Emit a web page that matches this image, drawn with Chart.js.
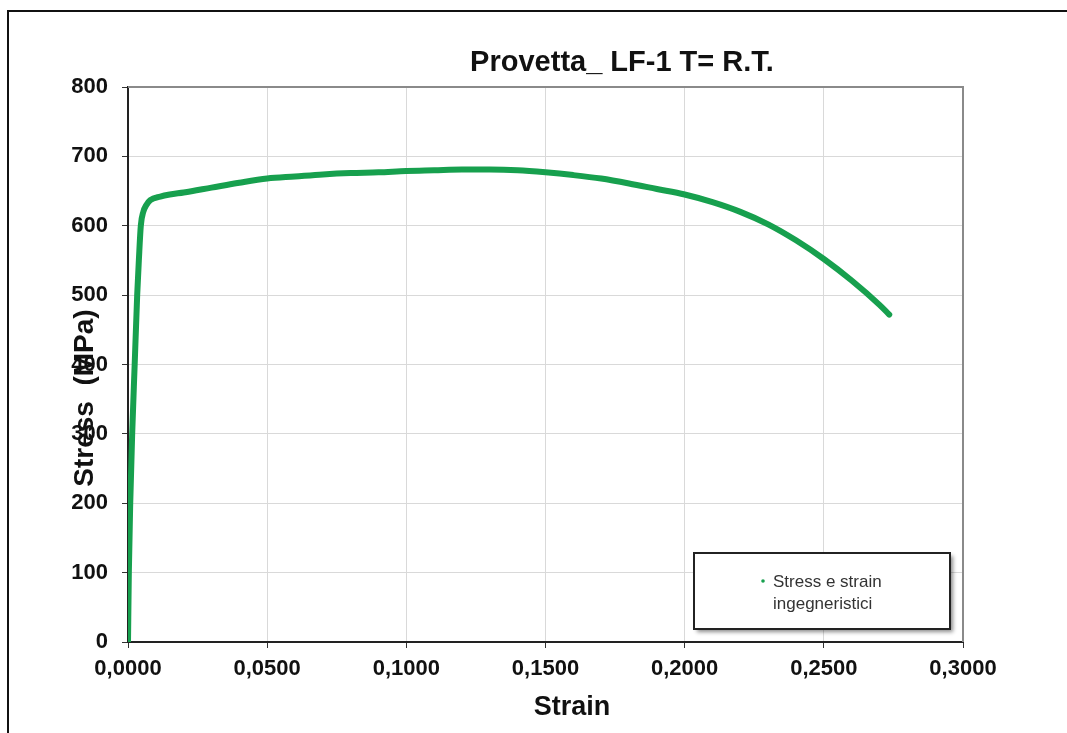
<!DOCTYPE html>
<html>
<head>
<meta charset="utf-8">
<script src="https://cdn.jsdelivr.net/npm/chart.js@4/dist/chart.umd.min.js"></script>
<style>
  body { margin: 0; background: #fff; }
  #wrap { position: relative; width: 1067px; height: 733px; overflow: hidden; }
  #frame { position: absolute; left: 7px; top: 10px; width: 2000px; height: 2000px;
           border-left: 2px solid #111; border-top: 2px solid #111; }
  #chart { position: absolute; left: 0; top: 0; }
</style>
</head>
<body>
<div id="wrap">
  <div id="frame"></div>
  <canvas id="chart" width="1067" height="733"></canvas>
</div>
<script>
// dati
const chartTitle = 'Provetta_ LF-1 T= R.T.';
const xTitle = 'Strain';
const yTitle = 'Stress  (MPa)';
const seriesName = ['Stress e strain', 'ingegneristici'];

const strain = [0, 0.0003, 0.0008, 0.0015, 0.0024, 0.0033, 0.0039, 0.0046, 0.0055, 0.0066,
  0.008, 0.0116, 0.015, 0.02, 0.03, 0.04, 0.05, 0.06, 0.07, 0.08,
  0.09, 0.1, 0.11, 0.12, 0.13, 0.14, 0.15, 0.16, 0.17, 0.18,
  0.19, 0.2, 0.21, 0.22, 0.23, 0.24, 0.25, 0.26, 0.27, 0.2735];
const stress = [0, 100, 200, 300, 400, 500, 550, 600, 620, 630,
  637, 642, 645, 648, 655, 662, 668, 671, 674, 676,
  677, 679, 680, 681, 681, 680, 677, 673, 668, 661,
  653, 645, 634, 620, 602, 579, 552, 521, 486, 472];

const xMin = 0, xMax = 0.3, xStep = 0.05;
const yMin = 0, yMax = 800, yStep = 100;

const green = '#17a04e';
const fontFam = "'Liberation Sans', Arial, sans-serif";

// testi e legenda disegnati a mano (posizioni come nell'originale)
const extras = {
  id: 'extras',
  beforeDatasetsDraw(chart) {
    const {ctx, chartArea: a} = chart;
    ctx.save();
    ctx.strokeStyle = '#8a8a8a';
    ctx.lineWidth = 2;
    ctx.beginPath();
    ctx.moveTo(a.left, a.top);
    ctx.lineTo(a.right, a.top);
    ctx.lineTo(a.right, a.bottom);
    ctx.stroke();
    ctx.restore();
  },
  afterDraw(chart) {
    const {ctx} = chart;
    ctx.save();
    ctx.fillStyle = '#111';
    ctx.textAlign = 'center';
    ctx.textBaseline = 'alphabetic';
    ctx.font = 'bold 29px ' + fontFam;
    ctx.fillText(chartTitle, 622, 71);
    ctx.font = 'bold 27px ' + fontFam;
    ctx.fillText(xTitle, 572, 715);
    ctx.font = 'bold 28px ' + fontFam;
    ctx.translate(93, 398);
    ctx.rotate(-Math.PI / 2);
    ctx.fillText(yTitle, 0, 0);
    ctx.restore();

    // legenda
    ctx.save();
    ctx.shadowColor = 'rgba(0,0,0,0.45)';
    ctx.shadowBlur = 4;
    ctx.shadowOffsetX = 3;
    ctx.shadowOffsetY = 3;
    ctx.fillStyle = '#fff';
    ctx.fillRect(694, 553, 256, 76);
    ctx.shadowColor = 'transparent';
    ctx.strokeStyle = '#222';
    ctx.lineWidth = 2;
    ctx.strokeRect(694, 553, 256, 76);
    ctx.fillStyle = chart.data.datasets[0].borderColor;
    ctx.beginPath();
    ctx.arc(763, 581, 1.8, 0, Math.PI * 2);
    ctx.fill();
    ctx.fillStyle = '#333';
    ctx.font = '17px ' + fontFam;
    ctx.textAlign = 'left';
    ctx.textBaseline = 'alphabetic';
    ctx.fillText(seriesName[0], 773, 587);
    ctx.fillText(seriesName[1], 773, 609);
    ctx.restore();
  }
};

Chart.defaults.font.family = fontFam;

new Chart(document.getElementById('chart'), {
  type: 'scatter',
  data: {
    datasets: [{
      label: seriesName.join(' '),
      data: strain.map((s, i) => ({x: s, y: stress[i]})),
      showLine: true,
      borderColor: green,
      backgroundColor: green,
      borderWidth: 6,
      borderCapStyle: 'round',
      pointRadius: 0,
      cubicInterpolationMode: 'monotone'
    }]
  },
  options: {
    responsive: false,
    animation: false,
    layout: { padding: { left: 0, top: 87, right: 104, bottom: 0 } },
    plugins: { legend: { display: false }, title: { display: false }, tooltip: { enabled: false } },
    scales: {
      x: {
        type: 'linear', min: xMin, max: xMax,
        afterFit: s => { s.height = 91; },
        ticks: {
          stepSize: xStep, padding: 8, color: '#111', maxRotation: 0,
          font: { size: 22, weight: 'bold' },
          callback: v => v.toFixed(4).replace('.', ',')
        },
        grid: { color: '#d9d9d9', lineWidth: 1, tickLength: 6, tickColor: '#333' },
        border: { color: '#222', width: 2 }
      },
      y: {
        type: 'linear', min: yMin, max: yMax,
        afterFit: s => { s.width = 128; },
        ticks: {
          stepSize: yStep, padding: 14, color: '#111',
          font: { size: 22, weight: 'bold' }
        },
        grid: { color: '#d9d9d9', lineWidth: 1, tickLength: 6, tickColor: '#333' },
        border: { color: '#222', width: 2 }
      }
    }
  },
  plugins: [extras]
});
</script>
</body>
</html>
